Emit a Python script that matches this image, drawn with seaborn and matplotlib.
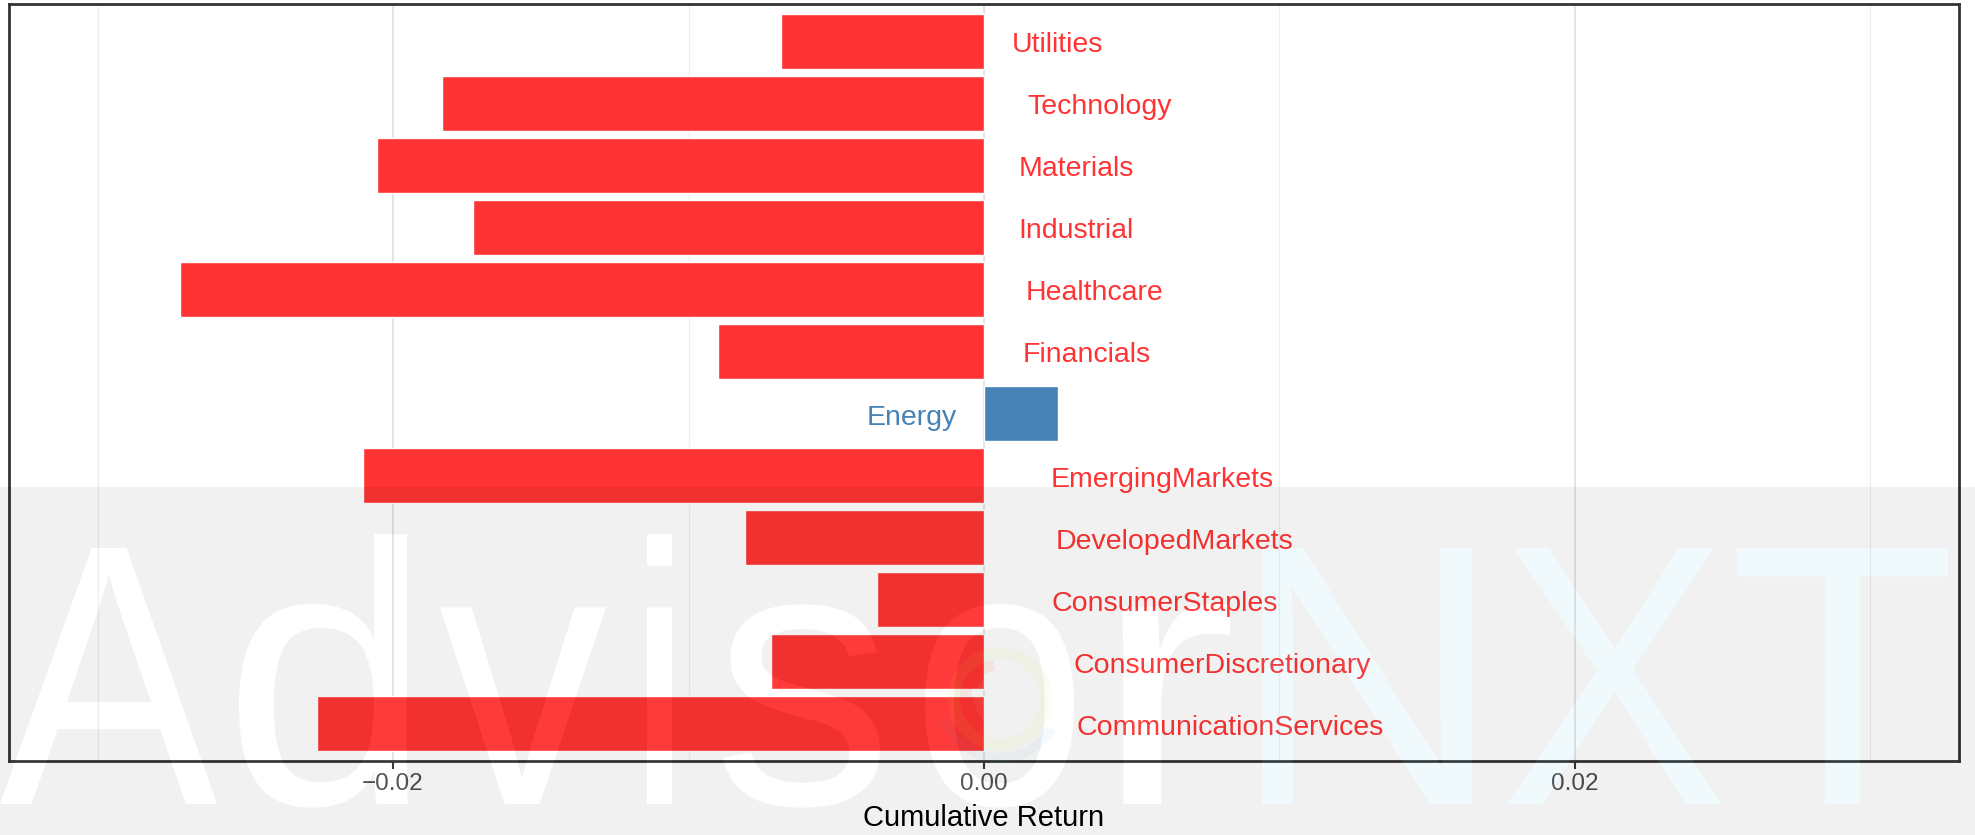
import numpy as np
import pandas as pd
import matplotlib
matplotlib.use("Agg")
import matplotlib.pyplot as plt
import seaborn as sns
from matplotlib.path import Path
from matplotlib.patches import PathPatch, Wedge
from matplotlib.textpath import TextPath
from matplotlib.font_manager import FontProperties
from matplotlib.transforms import offset_copy, Affine2D

# cumulative return per sector
sectors = ['CommunicationServices', 'ConsumerDiscretionary', 'ConsumerStaples',
           'DevelopedMarkets', 'EmergingMarkets', 'Energy', 'Financials',
           'Healthcare', 'Industrial', 'Materials', 'Technology', 'Utilities']
returns = [-0.02256, -0.00721, -0.00362, -0.00810, -0.02102, 0.00252,
           -0.00900, -0.02721, -0.01731, -0.02055, -0.01834, -0.00687]
x_ticks = [-0.02, 0.0, 0.02]
x_tick_labels = ['\u22120.02', '0.00', '0.02']
x_minor = [-0.03, -0.01, 0.01, 0.03]

pos_color = '#4682B4'
neg_color = '#FF3333'

df = pd.DataFrame({'Sector': sectors, 'Return': returns})
order = sectors[::-1]   # Utilities on top
colors = {s: (pos_color if r > 0 else neg_color) for s, r in zip(sectors, returns)}

sns.set_theme(style='white')
plt.rcParams['font.family'] = ['Liberation Sans', 'DejaVu Sans']

W, H, DPI = 1975, 835, 100
fig = plt.figure(figsize=(W / DPI, H / DPI), dpi=DPI)
fig.patch.set_facecolor('white')
ax = fig.add_axes([9 / W, 1 - 761 / H, 1950 / W, 757 / H])
ax.set_axisbelow(True)

sns.barplot(data=df, x='Return', y='Sector', hue='Sector', order=order,
            hue_order=order, palette=colors, orient='h', width=0.88,
            saturation=1, legend=False, ax=ax)

ax.set_xlim(-0.033, 0.033)
ax.set_ylim(len(order) - 0.4, -0.6)

ax.set_xticks(x_ticks)
ax.set_xticklabels(x_tick_labels)
ax.set_xticks(x_minor, minor=True)
ax.grid(axis='x', which='major', color='#E2E2E2', lw=1.3)
ax.grid(axis='x', which='minor', color='#EFEFEF', lw=0.9)
ax.grid(axis='y', visible=False)
ax.tick_params(axis='x', which='major', length=5.5, width=1.5, color='#333333',
               labelsize=17.5, labelcolor='#4D4D4D', pad=3, bottom=True)
ax.tick_params(axis='x', which='minor', length=0)
ax.tick_params(axis='y', left=False, labelleft=False)
ax.set_ylabel('')
ax.set_xlabel('Cumulative Return', fontsize=21, color='black', labelpad=6.5)
for sp in ax.spines.values():
    sp.set_visible(True)
    sp.set_color('#333333')
    sp.set_linewidth(2)

# sector labels next to the zero line, shifted by 30% of their own width
labels = []
for i, s in enumerate(order):
    r = df.loc[df['Sector'] == s, 'Return'].iloc[0]
    t = ax.text(0, i, s, color=colors[s], fontsize=20.5, va='center',
                ha='left' if r < 0 else 'right')
    labels.append((t, r))
fig.canvas.draw()
renderer = fig.canvas.get_renderer()
for t, r in labels:
    w = t.get_window_extent(renderer).width
    shift = 0.3 * w if r < 0 else -0.3 * w
    t.set_transform(offset_copy(ax.transData, fig=fig, x=shift, y=-4, units='dots'))

# ---- watermark overlay: grey band with letter-shaped holes ----
ov = fig.add_axes([0, 0, 1, 1], zorder=10)
ov.set_xlim(0, W)
ov.set_ylim(0, H)
ov.axis('off')

fp = FontProperties(family='Liberation Sans')
cap_h = 256
base_y = H - 804
ref_h = TextPath((0, 0), 'N', size=100, prop=fp).get_extents().height
wm_size = 100 * cap_h / ref_h

# letter, left ink edge, right ink edge (pixels)
wm_letters = [('A', 0, 217), ('d', 239, 408), ('v', 440, 606), ('i', 647, 672),
              ('s', 723, 880), ('o', 925, 1074), ('r', 1122, 1230),
              ('N', 1262, 1472), ('X', 1507, 1721), ('T', 1737, 1948)]

glyphs = {}
for ch, x0, x1 in wm_letters:
    p = TextPath((0, 0), ch, size=wm_size, prop=fp)
    e = p.get_extents()
    sx = (x1 - x0) / e.width
    p = p.transformed(Affine2D().translate(-e.x0, 0).scale(sx, 1).translate(x0, base_y))
    glyphs[ch] = p

letters_path = Path.make_compound_path(*glyphs.values())


def signed_area(p):
    return 0.5 * np.sum(p[:-1, 0] * p[1:, 1] - p[1:, 0] * p[:-1, 1])


polys = glyphs['A'].to_polygons()
big = max(polys, key=lambda p: abs(signed_area(p)))
band_h = H - 487
if signed_area(big) > 0:
    rect_v = [(0, 0), (0, band_h), (W, band_h), (W, 0), (0, 0)]
else:
    rect_v = [(0, 0), (W, 0), (W, band_h), (0, band_h), (0, 0)]
rect = Path(rect_v, [Path.MOVETO, Path.LINETO, Path.LINETO, Path.LINETO, Path.CLOSEPOLY])
band = Path.make_compound_path(rect, letters_path)
ov.add_patch(PathPatch(band, facecolor='black', edgecolor='none', alpha=0.055))
ov.add_patch(PathPatch(letters_path, facecolor='white', edgecolor='none', alpha=0.04))

# light cyan tint on "NXT"
for ch in ['N', 'X', 'T']:
    ov.add_patch(PathPatch(glyphs[ch], facecolor='#00A0D0', edgecolor='none', alpha=0.06))

# faint logo rings inside the "o"
cx, cy = 1000, H - 699
ov.add_patch(Wedge((cx, cy), 52, 0, 360, width=12, facecolor='#C8E632', alpha=0.07, lw=0))
ov.add_patch(Wedge((cx, cy), 40, 100, 230, width=11, facecolor='#FF4020', alpha=0.08, lw=0))
ov.add_patch(Wedge((cx, cy), 64, 200, 330, width=10, facecolor='#30A0E0', alpha=0.05, lw=0))
ov.add_patch(Wedge((cx, cy), 26, 0, 360, facecolor='white', alpha=0.05, lw=0))

fig.savefig('out.png', dpi=DPI)
